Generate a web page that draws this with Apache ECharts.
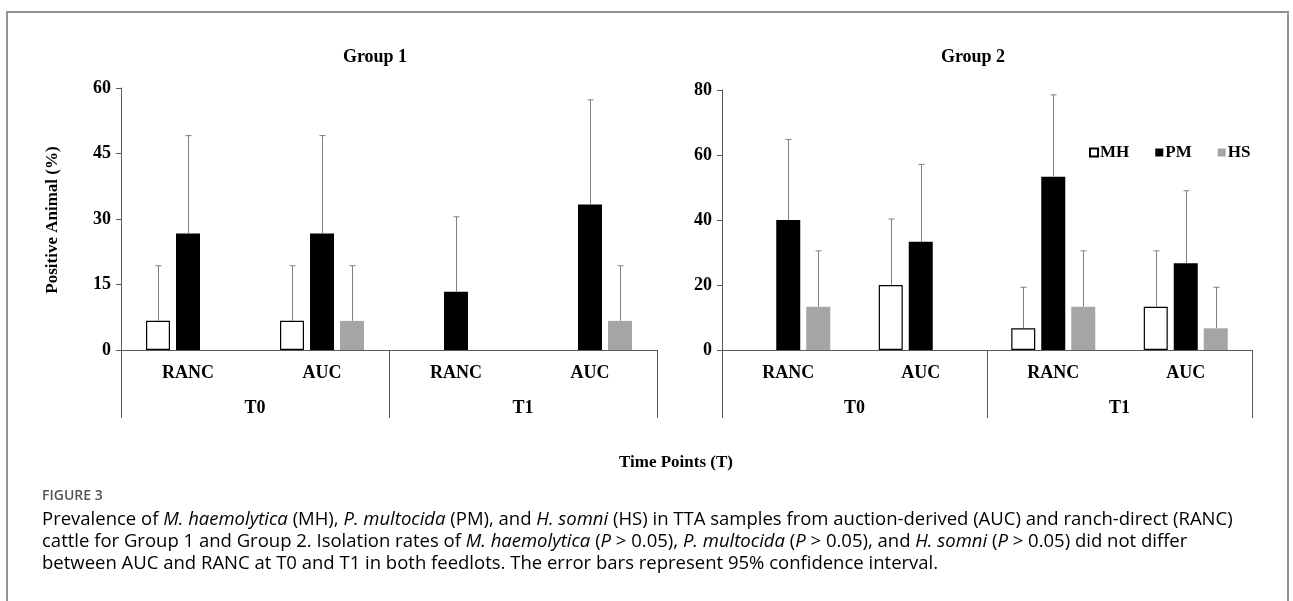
<!DOCTYPE html>
<html>
<head>
<meta charset="utf-8">
<title>Figure 3</title>
<script src="https://cdn.jsdelivr.net/npm/echarts@6/dist/echarts.min.js"></script>
<style>
  html, body { margin: 0; padding: 0; background: #fff; }
  #chart { width: 1293px; height: 601px; }
</style>
</head>
<body>
<div id="chart"></div>
<script>
// ===== data =====
const subCategories = ["RANC", "AUC", "RANC", "AUC"];
const timePoints = ["T0", "T1"];
const seriesNames = ["MH", "PM", "HS"];

// group 1 (% positive), order: T0 RANC, T0 AUC, T1 RANC, T1 AUC
const g1MH = [6.67, 6.67, 0, 0];
const g1PM = [26.67, 26.67, 13.33, 33.33];
const g1HS = [0, 6.67, 0, 6.67];
// upper limit of 95% CI
const g1MHUpper = [19.3, 19.3, 0, 0];
const g1PMUpper = [49.1, 49.1, 30.5, 57.3];
const g1HSUpper = [0, 19.3, 0, 19.3];

// group 2
const g2MH = [0, 20, 6.67, 13.33];
const g2PM = [40, 33.33, 53.33, 26.67];
const g2HS = [13.33, 0, 13.33, 6.67];
const g2MHUpper = [0, 40.3, 19.3, 30.5];
const g2PMUpper = [64.8, 57.1, 78.5, 49.0];
const g2HSUpper = [30.5, 0, 30.5, 19.3];

const g1Ticks = { max: 60, interval: 15 };
const g2Ticks = { max: 80, interval: 20 };

// ===== styles =====
const SERIF = "Liberation Serif";
const axisColor = "#595959";
const errColor = "#808080";
const barColors = {
  MH: { color: "#ffffff", borderColor: "#000000", borderWidth: 1.2 },
  PM: { color: "#000000" },
  HS: { color: "#a5a5a5" },
};
const BAR_W = 24;
const BAR_GAP = 6;

const boldText = { fontFamily: SERIF, fontWeight: "bold", fontSize: 18, color: "#000" };

const chart = echarts.init(document.getElementById("chart"));

// error bar (upper only, with cap) drawn on top of bar k of each category
const errorSeries = (name, k, values, uppers, axisIdx) => ({
  type: "custom",
  name: name + "-ci",
  xAxisIndex: axisIdx * 2,
  yAxisIndex: axisIdx,
  silent: true,
  z: 3,
  data: values.map((v, i) => [i, v, uppers[i]]),
  encode: { x: 0, y: [1, 2] },
  renderItem: (params, api) => {
    const v = api.value(1);
    const hi = api.value(2);
    if (!(hi > v)) return null;
    const off = (k - 1) * (BAR_W + BAR_GAP);
    const p0 = api.coord([api.value(0), v]);
    const p1 = api.coord([api.value(0), hi]);
    const x = Math.round(p0[0] + off) + 0.5;
    const style = { stroke: errColor, lineWidth: 1 };
    return {
      type: "group",
      children: [
        { type: "line", shape: { x1: x, y1: p0[1], x2: x, y2: p1[1] }, style },
        { type: "line", shape: { x1: x - 3, y1: p1[1], x2: x + 3, y2: p1[1] }, style },
      ],
    };
  },
});

// zero bars get no outline, like Excel
const barSeries = (name, values, axisIdx) => ({
  type: "bar",
  name,
  xAxisIndex: axisIdx * 2,
  yAxisIndex: axisIdx,
  barWidth: BAR_W,
  barGap: (BAR_GAP / BAR_W) * 100 + "%",
  itemStyle: barColors[name],
  emphasis: { disabled: true },
  data: values.map((v) => (v === 0 ? { value: v, itemStyle: { borderWidth: 0, opacity: 0 } } : v)),
});

const subAxis = (gridIndex) => ({
  type: "category",
  gridIndex,
  data: subCategories,
  position: "bottom",
  axisLine: { show: true, lineStyle: { color: axisColor, width: 1.2 } },
  axisTick: { show: false },
  axisLabel: { ...boldText, margin: 14, interval: 0 },
});

const topAxis = (gridIndex) => ({
  type: "category",
  gridIndex,
  data: timePoints,
  position: "bottom",
  axisLine: { show: false },
  axisTick: { show: true, length: 68, interval: 0, lineStyle: { color: axisColor, width: 1 } },
  axisLabel: { ...boldText, margin: 49, interval: 0 },
});

const valueAxis = (gridIndex, ticks) => ({
  type: "value",
  gridIndex,
  min: 0,
  max: ticks.max,
  interval: ticks.interval,
  axisLine: { show: true, lineStyle: { color: axisColor, width: 1 } },
  axisTick: { show: true, length: 5, lineStyle: { color: axisColor } },
  axisLabel: { ...boldText, margin: 10 },
  splitLine: { show: false },
});

// caption (rich text so the species names can be italic)
const capStyle = { fontFamily: "Open Sans", fontSize: 18.5, color: "#606060", lineHeight: 22 };
const captionLines = [
  "{n|Prevalence of }{i|M. haemolytica}{n| (MH), }{i|P. multocida}{n| (PM), and }{i|H. somni}{n| (HS) in TTA samples from auction-derived (AUC) and ranch-direct (RANC)}",
  "{n|cattle for Group 1 and Group 2. Isolation rates of }{i|M. haemolytica}{n| (}{i|P}{n| > 0.05), }{i|P. multocida}{n| (}{i|P}{n| > 0.05), and }{i|H. somni}{n| (}{i|P}{n| > 0.05) did not differ}",
  "{n|between AUC and RANC at T0 and T1 in both feedlots. The error bars represent 95% confidence interval.}",
];

const option = {
  animation: false,
  backgroundColor: "#fff",
  grid: [
    { left: 121, top: 88, width: 536, height: 262 },
    { left: 722, top: 90, width: 530, height: 260 },
  ],
  xAxis: [subAxis(0), topAxis(0), subAxis(1), topAxis(1)],
  yAxis: [valueAxis(0, g1Ticks), valueAxis(1, g2Ticks)],
  legend: {
    data: seriesNames,
    left: 1084,
    top: 139,
    itemWidth: 8,
    itemHeight: 8,
    itemGap: 26,
    selectedMode: false,
    icon: "rect",
    textStyle: { ...boldText, fontSize: 17, padding: [0, 0, 0, -3] },
  },
  series: [
    barSeries("MH", g1MH, 0),
    barSeries("PM", g1PM, 0),
    barSeries("HS", g1HS, 0),
    barSeries("MH", g2MH, 1),
    barSeries("PM", g2PM, 1),
    barSeries("HS", g2HS, 1),
    errorSeries("MH", 0, g1MH, g1MHUpper, 0),
    errorSeries("PM", 1, g1PM, g1PMUpper, 0),
    errorSeries("HS", 2, g1HS, g1HSUpper, 0),
    errorSeries("MH", 0, g2MH, g2MHUpper, 1),
    errorSeries("PM", 1, g2PM, g2PMUpper, 1),
    errorSeries("HS", 2, g2HS, g2HSUpper, 1),
  ],
  graphic: [
    {
      type: "rect",
      shape: { x: 7, y: 12, width: 1281, height: 640 },
      style: { fill: "none", stroke: "#939393", lineWidth: 2 },
      silent: true,
    },
    {
      type: "text", x: 375, y: 57,
      style: { ...boldText, fill: "#000", text: "Group 1", align: "center", verticalAlign: "middle" },
    },
    {
      type: "text", x: 973, y: 57,
      style: { ...boldText, fill: "#000", text: "Group 2", align: "center", verticalAlign: "middle" },
    },
    {
      type: "text", x: 53, y: 220, rotation: Math.PI / 2,
      style: { ...boldText, fontSize: 17, fill: "#000", text: "Positive Animal (%)", align: "center", verticalAlign: "middle" },
    },
    {
      type: "text", x: 676, y: 463,
      style: { ...boldText, fontSize: 17, fill: "#000", text: "Time Points (T)", align: "center", verticalAlign: "middle" },
    },
    {
      type: "text", x: 42, y: 496,
      style: { fontFamily: "Open Sans", fontWeight: 600, fontSize: 14, fill: "#555", text: "FIGURE 3", verticalAlign: "middle" },
    },
    ...captionLines.map((line, i) => ({
      type: "text", x: 42, y: 520 + i * 22,
      style: {
        text: line,
        verticalAlign: "middle",
        rich: {
          n: { ...capStyle },
          i: { ...capStyle, fontStyle: "italic" },
        },
      },
    })),
  ],
};

chart.setOption(option);
</script>
</body>
</html>
